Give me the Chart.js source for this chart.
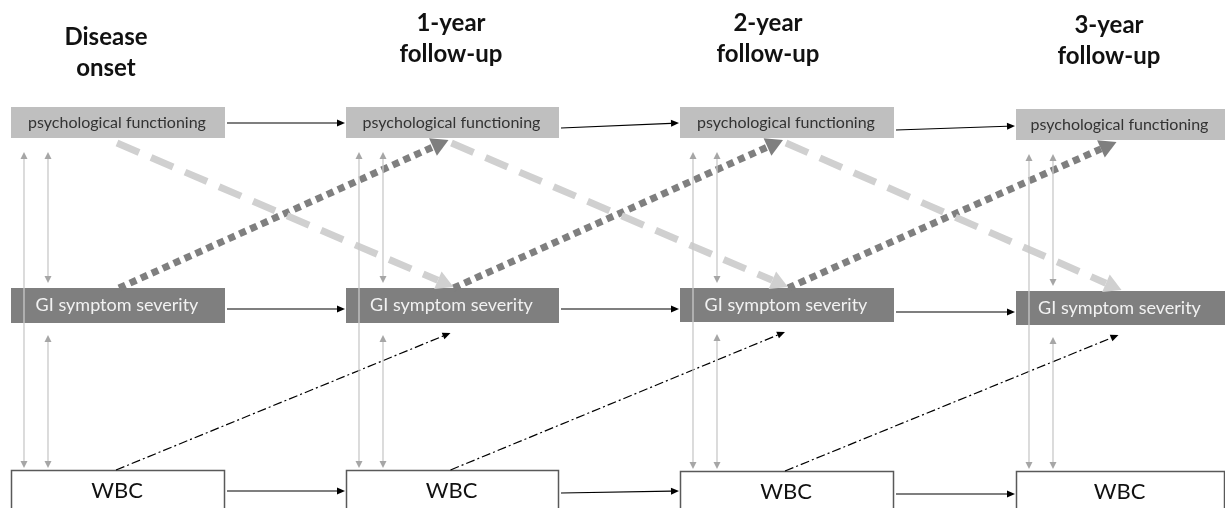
<!DOCTYPE html>
<html>
<head>
<meta charset="utf-8">
<script src="https://cdn.jsdelivr.net/npm/chart.js@4"></script>
<style>
  html, body { margin: 0; padding: 0; background: #fff; }
  canvas { display: block; }
</style>
</head>
<body>
<canvas id="canvas" width="1225" height="508"></canvas>
<script>
// time points (columns) and the three measured variables (rows)
var headerLines = [['Disease', 'onset'], ['1-year', 'follow-up'], ['2-year', 'follow-up'], ['3-year', 'follow-up']];
var nodeLabels = ['psychological functioning', 'GI symptom severity', 'WBC'];

// box layout (diagram units = pixels)
var boxLeft = [11, 346, 680, 1016];
var boxRight = [225, 559, 894, 1225];
var psychTop = [107, 107, 107, 109];
var psychBottom = [138, 138, 138, 140];
var giTop = [288, 288, 288, 291];
var giBottom = [323, 323, 322, 325];
var wbcTop = [470, 470, 471, 471];
var wbcBottom = [520, 520, 520, 520];
var headerX = [106, 451, 768, 1109];
var headerY = [37, 23, 23, 25];

// autoregressive paths (y at start / y at arrow tip)
var psychLinkFrom = [123, 128, 130];
var psychLinkTo = [123, 123, 126];
var giLinkFrom = [309, 309, 312];
var giLinkTo = [309, 309, 312];
var wbcLinkFrom = [491, 493, 494];
var wbcLinkTo = [491, 491, 494];

var styles = {
    solid: { color: '#000000', width: 1.2, dash: [], head: { len: 8, w: 7, color: '#000000' } },
    lightDash: { color: '#d0d0d0', width: 7, dash: [24, 13], head: { len: 17, w: 19, color: '#d0d0d0' } },
    darkDot: { color: '#7f7f7f', width: 7, dash: [7, 5], head: { len: 17, w: 19, color: '#7f7f7f' } },
    dashDot: { color: '#000000', width: 1.2, dash: [9, 3, 2, 3], head: { len: 8, w: 7, color: '#000000' } },
    vertical: { color: '#c9c9c9', width: 1.3, dash: [], head: { len: 7, w: 7, color: '#a6a6a6' } },
};

function center(i) {
    return (boxLeft[i] + boxRight[i]) / 2;
}

// a segment from (x1,y1) to the arrow tip (x2,y2); the line stops at the base of the head
function arrow(x1, y1, x2, y2, style, both) {
    var s = styles[style];
    var dx = x2 - x1, dy = y2 - y1;
    var d = Math.sqrt(dx * dx + dy * dy);
    var ux = dx / d, uy = dy / d;
    var ex = x2 - ux * s.head.len, ey = y2 - uy * s.head.len;
    var sx = x1, sy = y1;
    if (both) {
        sx = x1 + ux * s.head.len;
        sy = y1 + uy * s.head.len;
    }
    return {
        type: 'line',
        data: [{ x: sx, y: sy }, { x: ex, y: ey }],
        borderColor: s.color,
        borderWidth: s.width,
        borderDash: s.dash,
        borderCapStyle: 'butt',
        pointRadius: 0,
        pointHoverRadius: 0,
        tension: 0,
        fill: false,
        clip: false,
        arrowHead: s.head,
        arrowBoth: !!both,
    };
}

var datasets = [];
for (var c = 0; c < 4; c++) {
    var l = boxLeft[c];
    // psych <-> WBC (long), psych <-> GI, GI <-> WBC
    datasets.push(arrow(l + 13, psychBottom[c] + 14, l + 13, wbcTop[c] - 2, 'vertical', true));
    datasets.push(arrow(l + 37, psychBottom[c] + 14, l + 37, giTop[c] - 5, 'vertical', true));
    datasets.push(arrow(l + 37, giBottom[c] + 12, l + 37, wbcTop[c] - 2, 'vertical', true));
}
for (var i = 0; i < 3; i++) {
    datasets.push(arrow(boxRight[i] + 2, psychLinkFrom[i], boxLeft[i + 1] - 1, psychLinkTo[i], 'solid'));
    datasets.push(arrow(boxRight[i] + 2, giLinkFrom[i], boxLeft[i + 1] - 1, giLinkTo[i], 'solid'));
    datasets.push(arrow(boxRight[i] + 2, wbcLinkFrom[i], boxLeft[i + 1] - 1, wbcLinkTo[i], 'solid'));
    // cross-lagged paths
    datasets.push(arrow(center(i) - 2, wbcTop[i], center(i + 1) - 2, giBottom[i + 1] + 10, 'dashDot'));
    datasets.push(arrow(center(i) - 1, psychBottom[i] + 5, center(i + 1) + 1, giTop[i + 1] - 1, 'lightDash'));
    datasets.push(arrow(center(i) + 1, giTop[i], center(i + 1) - 4, psychBottom[i + 1] + 2, 'darkDot'));
}

function drawHead(ctx, bx, by, ux, uy, head) {
    var tx = bx + ux * head.len, ty = by + uy * head.len;
    ctx.beginPath();
    ctx.moveTo(tx, ty);
    ctx.lineTo(bx - uy * head.w / 2, by + ux * head.w / 2);
    ctx.lineTo(bx + uy * head.w / 2, by - ux * head.w / 2);
    ctx.closePath();
    ctx.fillStyle = head.color;
    ctx.fill();
}

var diagramPlugin = {
    id: 'diagram',
    beforeDatasetsDraw: function(chart) {
        var ctx = chart.ctx;
        var xs = chart.scales.x, ys = chart.scales.y;
        ctx.save();
        for (var c = 0; c < 4; c++) {
            var x0 = xs.getPixelForValue(boxLeft[c]);
            var x1 = xs.getPixelForValue(boxRight[c]);
            var rows = [
                [psychTop[c], psychBottom[c], '#bfbfbf', '#333333', '16px Lato', null],
                [giTop[c], giBottom[c], '#7f7f7f', '#f2f2f2', '18px Lato', null],
                [wbcTop[c], wbcBottom[c], '#ffffff', '#111111', '22px Lato', '#595959'],
            ];
            rows.forEach(function(r, k) {
                var y0 = ys.getPixelForValue(r[0]);
                var y1 = ys.getPixelForValue(r[1]);
                ctx.fillStyle = r[2];
                ctx.fillRect(x0, y0, x1 - x0, y1 - y0);
                if (r[5]) {
                    ctx.strokeStyle = r[5];
                    ctx.lineWidth = 1.5;
                    ctx.strokeRect(x0 + 0.5, y0 + 0.5, x1 - x0 - 1, y1 - y0);
                }
                ctx.fillStyle = r[3];
                ctx.font = r[4];
                ctx.textAlign = 'center';
                ctx.textBaseline = 'middle';
                var ty = k === 2 ? y0 + 21 : (y0 + y1) / 2;
                ctx.fillText(nodeLabels[k], (x0 + x1) / 2 - 1, ty);
            });
        }
        ctx.restore();
    },
    afterDatasetsDraw: function(chart) {
        var ctx = chart.ctx;
        ctx.save();
        chart.data.datasets.forEach(function(ds, i) {
            var pts = chart.getDatasetMeta(i).data;
            var a = pts[0], b = pts[pts.length - 1];
            var dx = b.x - a.x, dy = b.y - a.y;
            var d = Math.sqrt(dx * dx + dy * dy);
            drawHead(ctx, b.x, b.y, dx / d, dy / d, ds.arrowHead);
            if (ds.arrowBoth) {
                drawHead(ctx, a.x, a.y, -dx / d, -dy / d, ds.arrowHead);
            }
        });
        ctx.restore();
    },
    afterDraw: function(chart) {
        var ctx = chart.ctx;
        var xs = chart.scales.x, ys = chart.scales.y;
        ctx.save();
        ctx.fillStyle = '#111111';
        ctx.font = 'bold 24px Lato';
        ctx.textAlign = 'center';
        ctx.textBaseline = 'middle';
        headerLines.forEach(function(lines, c) {
            lines.forEach(function(t, k) {
                ctx.fillText(t, xs.getPixelForValue(headerX[c]), ys.getPixelForValue(headerY[c] + k * 31));
            });
        });
        ctx.restore();
    }
};

var ctx = document.getElementById('canvas').getContext('2d');
var pathChart = new Chart(ctx, {
    type: 'scatter',
    data: { datasets: datasets },
    options: {
        responsive: false,
        animation: false,
        devicePixelRatio: 1,
        layout: { padding: 0 },
        plugins: {
            legend: { display: false },
            tooltip: { enabled: false },
        },
        events: [],
        scales: {
            x: { type: 'linear', min: 0, max: 1225, display: false },
            y: { type: 'linear', min: 0, max: 508, reverse: true, display: false },
        },
    },
    plugins: [diagramPlugin],
});
</script>
</body>
</html>
